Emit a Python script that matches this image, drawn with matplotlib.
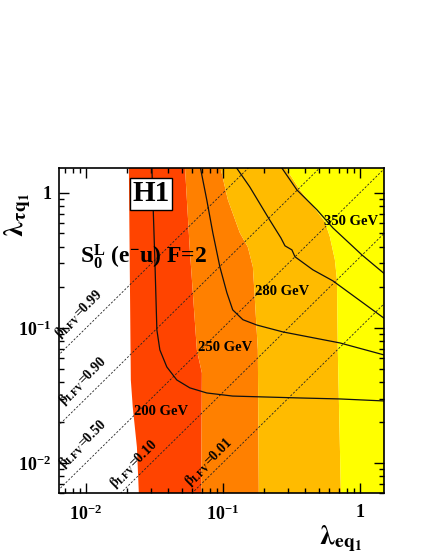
import numpy as np
import matplotlib
matplotlib.use('Agg')
import matplotlib.pyplot as plt
from matplotlib.ticker import LogLocator, FuncFormatter, NullFormatter

plt.rcParams['font.family'] = ['Liberation Serif', 'DejaVu Serif']
plt.rcParams['font.weight'] = 'bold'
plt.rcParams['mathtext.fontset'] = 'custom'
plt.rcParams['mathtext.rm'] = 'Liberation Serif:bold'
plt.rcParams['mathtext.bf'] = 'Liberation Serif:bold'
plt.rcParams['mathtext.it'] = 'Liberation Serif:italic:bold'

# band boundaries: lambda_eq (x) read at lambda_tq heights (y)
white_red_y = [0.0058, 0.0131, 0.026, 0.0412, 1.6]
white_red_x = [0.0244, 0.0236, 0.0220, 0.0213, 0.0206]

red_orange_y = [0.0058, 0.0464, 0.0687, 0.378, 1.6]
red_orange_x = [0.0695, 0.0703, 0.0646, 0.0574, 0.0528]

orange_light_y = [0.0058, 0.0687, 0.161, 0.283, 0.398, 0.505, 0.887, 1.6]
orange_light_x = [0.183, 0.180, 0.1713, 0.1656, 0.152, 0.133, 0.1088, 0.0951]

light_yellow_y = [0.0058, 0.0687, 0.227, 0.319, 0.472, 0.61, 0.748, 1.05, 1.6]
light_yellow_x = [0.727, 0.690, 0.680, 0.657, 0.604, 0.556, 0.477, 0.365, 0.279]

band_colors = ['#ff4400', '#ff8000', '#ffbb00', '#ffff00']

# mass contours (lambda_eq, lambda_tq)
c200_x = [0.0303, 0.0319, 0.0330, 0.0347, 0.0390, 0.0461, 0.0574, 0.0763, 0.118, 0.365, 0.715, 1.5]
c200_y = [1.6, 0.319, 0.0966, 0.0687, 0.0514, 0.0412, 0.0360, 0.0330, 0.0313, 0.0303, 0.0298, 0.0288]

c250_x = [0.068, 0.0763, 0.0845, 0.0951, 0.107, 0.118, 0.140, 0.177, 0.274, 0.715, 1.5]
c250_y = [1.6, 0.887, 0.505, 0.283, 0.182, 0.136, 0.115, 0.105, 0.0934, 0.0774, 0.0631]

c280_x = [0.122, 0.157, 0.217, 0.265, 0.284, 0.319, 0.336, 0.454, 0.635, 1.5]
c280_y = [1.6, 1.107, 0.642, 0.464, 0.405, 0.378, 0.336, 0.269, 0.223, 0.118]

c350_x = [0.261, 0.347, 0.486, 0.635, 1.034, 1.5]
c350_y = [1.6, 1.05, 0.748, 0.55, 0.347, 0.253]

contour_labels = ['200 GeV', '250 GeV', '280 GeV', '350 GeV']

beta_values = [0.99, 0.90, 0.50, 0.10, 0.01]
beta_labels = ['0.99', '0.90', '0.50', '0.10', '0.01']

xlim = (0.00641, 1.496)
ylim = (0.0060, 1.53)

fig = plt.figure(figsize=(4.27, 5.53), dpi=100)
ax = fig.add_axes([0.139, 0.1085, 0.76, 0.588])
ax.set_xscale('log')
ax.set_yscale('log')
ax.set_xlim(*xlim)
ax.set_ylim(*ylim)

# filled bands
bounds = [(white_red_x, white_red_y), (red_orange_x, red_orange_y),
          (orange_light_x, orange_light_y), (light_yellow_x, light_yellow_y),
          ([3.0, 3.0], [0.0058, 1.6])]
for i in range(4):
    lx, ly = bounds[i]
    rx, ry = bounds[i + 1]
    px = list(lx) + list(rx)[::-1]
    py = list(ly) + list(ry)[::-1]
    ax.fill(px, py, color=band_colors[i], lw=0, zorder=1)

# beta_LFV dashed lines
xx = np.array([0.001, 10.0])
for b in beta_values:
    r = np.sqrt(b / (1 - b))
    ax.plot(xx, r * xx, ls=(0, (2.5, 2)), color='#222222', lw=0.6, zorder=2)

for cx, cy in [(c200_x, c200_y), (c250_x, c250_y), (c280_x, c280_y), (c350_x, c350_y)]:
    ax.plot(cx, cy, color='#111111', lw=0.9, zorder=3)

# labels
lab_pos = [(0.0353, 0.0239), (0.1035, 0.0711), (0.27, 0.185), (0.86, 0.61)]
for t, (lx, ly) in zip(contour_labels, lab_pos):
    ax.text(lx, ly, t, ha='center', va='center', fontsize=10.5, fontweight='bold', zorder=5)

beta_pos = [(0.00679, 0.0787), (0.00727, 0.0251), (0.00727, 0.00858), (0.0171, 0.0061), (0.0604, 0.0063)]
for t, (bx, by) in zip(beta_labels, beta_pos):
    ax.text(bx, by, r'$\mathrm{\beta}_{\mathrm{LFV}}$=' + t, rotation=45, rotation_mode='anchor',
            ha='left', va='bottom', fontsize=10, fontweight='bold', zorder=5,
            math_fontfamily='stix')

ax.text(0.0298, 0.983, 'H1', ha='center', va='center', fontsize=21, fontweight='bold', zorder=6,
        bbox=dict(boxstyle='square,pad=0.08', fc='white', ec='black', lw=1))
ax.text(0.00904, 0.336, r'S$_{\mathrm{0}}^{\mathrm{L}}$ (e$^{-}$u) F=2', ha='left', va='center', fontsize=17,
        fontweight='bold', zorder=6)

# axes styling
ax.xaxis.set_major_locator(LogLocator(base=10, numticks=10))
ax.yaxis.set_major_locator(LogLocator(base=10, numticks=10))
ax.xaxis.set_minor_locator(LogLocator(base=10, subs=np.arange(2, 10), numticks=20))
ax.yaxis.set_minor_locator(LogLocator(base=10, subs=np.arange(2, 10), numticks=20))
ax.xaxis.set_minor_formatter(NullFormatter())
ax.yaxis.set_minor_formatter(NullFormatter())


def fmt(v, pos):
    e = int(round(np.log10(v)))
    if e == 0:
        return '1'
    return r'10$^{%d}$' % e


ax.xaxis.set_major_formatter(FuncFormatter(fmt))
ax.yaxis.set_major_formatter(FuncFormatter(fmt))
ax.tick_params(which='both', direction='in', top=True, right=True, labelsize=13, width=1)
ax.tick_params(which='major', length=7)
ax.tick_params(which='minor', length=3.5)
ax.tick_params(axis='x', pad=8)
ax.tick_params(axis='y', pad=6)
for s in ax.spines.values():
    s.set_linewidth(1.2)
    s.set_zorder(10)

fig.text(18 / 427, 1 - 193 / 553, r'$\mathrm{\lambda}_{\mathrm{\tau q}_{\mathrm{1}}}$', rotation=90,
         ha='center', va='top', fontsize=20, math_fontfamily='stix')
fig.text(362 / 427, 1 - 523 / 553, r'$\mathrm{\lambda}_{\mathbf{eq}_{\mathbf{1}}}$', ha='right', va='top',
         fontsize=20, math_fontfamily='stix')

fig.savefig('out.png', dpi=100)
